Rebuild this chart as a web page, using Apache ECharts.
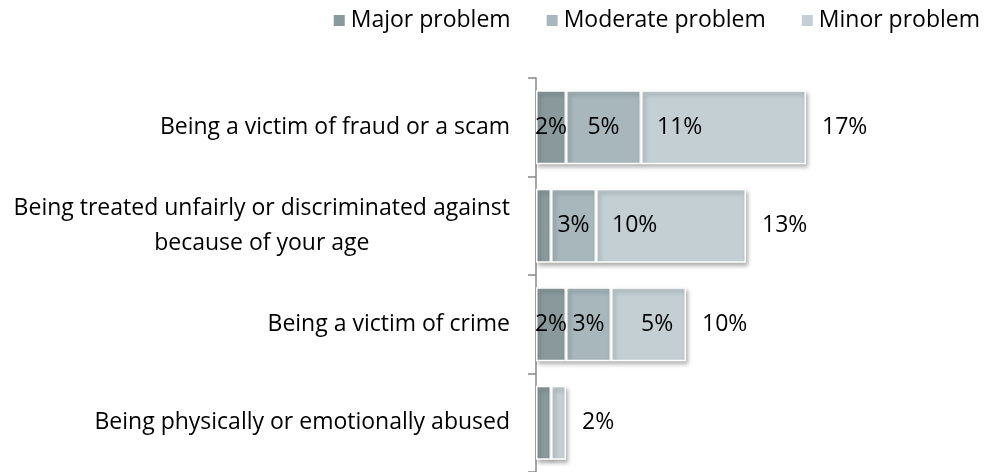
<!DOCTYPE html>
<html lang="en">
<head>
    <meta charset="utf-8" />
    <title>Problems</title>
    <script type="text/javascript" src="https://cdn.jsdelivr.net/npm/echarts@6/dist/echarts.min.js"></script>
</head>
<body style="margin:0;background-color:#fff">
    <div id="container" style="width:989px;height:472px;"></div>
</body>
</html>
<script type="text/javascript">
    var categories = [
        "Being a victim of fraud or a scam",
        "Being treated unfairly or discriminated against\nbecause of your age",
        "Being a victim of crime",
        "Being physically or emotionally abused"
    ];
    var major = [2, 1, 2, 1];
    var moderate = [5, 3, 3, 0];
    var minor = [11, 10, 5, 1];
    var majorLabels = ["2%", "", "2%", ""];
    var moderateLabels = ["5%", "3%", "3%", ""];
    var minorLabels = ["11%", "10%", "5%", ""];
    var totalLabels = ["17%", "13%", "10%", "2%"];

    var dom = document.getElementById("container");
    var myChart = echarts.init(dom);
    var font = "Open Sans";
    var fs = 23;

    var barStyle = function (color) {
        return {
            color: color,
            borderColor: '#fff',
            borderWidth: 1.5,
            shadowColor: 'rgba(0,0,0,0.3)',
            shadowBlur: 4,
            shadowOffsetX: 2,
            shadowOffsetY: 3
        };
    };

    var withLabels = function (values, labels, extra) {
        return values.map(function (v, i) {
            var item = { value: v, label: { formatter: labels[i] } };
            if (extra && extra[i]) {
                for (var k in extra[i]) item.label[k] = extra[i][k];
            }
            return item;
        });
    };

    var labelStyle = { show: true, color: '#000', fontSize: fs, fontFamily: font };

    option = {
        backgroundColor: '#fff',
        animation: false,
        legend: {
            data: ['Major problem', 'Moderate problem', 'Minor problem'],
            right: 4,
            top: 4,
            icon: 'rect',
            itemWidth: 13,
            itemHeight: 13,
            itemGap: 34,
            textStyle: { color: '#000', fontSize: fs, fontFamily: font }
        },
        grid: { left: 536, top: 78, width: 300, bottom: 0, containLabel: false },
        xAxis: { type: 'value', min: 0, max: 20, show: false },
        yAxis: {
            type: 'category',
            inverse: true,
            data: categories,
            axisLine: { show: true, lineStyle: { color: '#888', width: 1.5 } },
            axisTick: { show: true, length: 8, lineStyle: { color: '#888', width: 1.5 } },
            axisLabel: {
                margin: 26,
                color: '#000',
                fontSize: fs,
                fontFamily: font,
                formatter: function (v) {
                    return v.split('\n').map(function (s) { return '{c|' + s + '}'; }).join('\n');
                },
                rich: { c: { align: 'center', fontSize: fs, fontFamily: font, color: '#000', lineHeight: 35 } }
            }
        },
        series: [
            {
                name: 'Major problem', type: 'bar', stack: 'total', barCategoryGap: '25%',
                itemStyle: barStyle('#8a9a9c'),
                label: Object.assign({ position: 'inside' }, labelStyle),
                data: withLabels(major, majorLabels)
            },
            {
                name: 'Moderate problem', type: 'bar', stack: 'total',
                itemStyle: barStyle('#a7b7bb'),
                label: Object.assign({ position: 'inside' }, labelStyle),
                data: withLabels(moderate, moderateLabels)
            },
            {
                name: 'Minor problem', type: 'bar', stack: 'total',
                itemStyle: barStyle('#c3cfd3'),
                label: Object.assign({ position: 'insideLeft', distance: 16 }, labelStyle),
                data: withLabels(minor, minorLabels, [null, null, { distance: 30 }, null])
            },
            {
                name: 'Total', type: 'bar', stack: 'total',
                itemStyle: { color: 'transparent' },
                label: Object.assign({ position: 'right', distance: 16 }, labelStyle),
                data: withLabels([0, 0, 0, 0], totalLabels)
            }
        ]
    };
    myChart.setOption(option, true);
</script>
